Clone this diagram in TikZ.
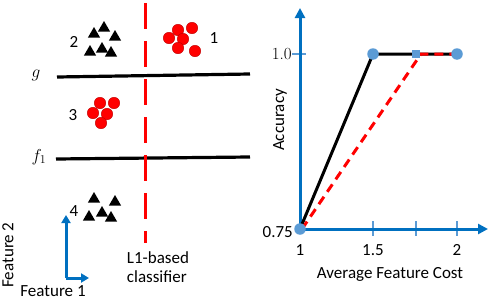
\documentclass[tikz,border=0pt]{standalone}
\usepackage{fontspec}
\newfontfamily\carlitofont{Carlito}
\usetikzlibrary{arrows.meta,shapes.geometric}
\definecolor{axblue}{HTML}{0070C0}
\definecolor{ltblue}{HTML}{5B9BD5}
\definecolor{myred}{HTML}{FF0000}
\definecolor{dkred}{HTML}{C00000}
\tikzset{
  lbl/.style={font=\carlitofont\fontsize{17}{18}\selectfont, inner sep=0pt},
  serifl/.style={font=\fontsize{17}{18}\selectfont, inner sep=0pt},
  dotr/.style={circle, fill=myred, draw=dkred, line width=0.4pt, minimum size=11.5pt, inner sep=0pt},
  tri/.style={regular polygon, regular polygon sides=3, fill=black, minimum size=14pt, inner sep=0pt},
  sepline/.style={line width=3.2pt, black},
  redsep/.style={line width=3pt, myred, dash pattern=on 26pt off 12pt},
  axis/.style={line width=3pt, axblue, -{Triangle[length=10pt,width=10pt]}},
  tickm/.style={line width=1.6pt, ltblue},
  pt/.style={circle, fill=ltblue, minimum size=11.5pt, inner sep=0pt},
  sqpt/.style={rectangle, fill=ltblue, minimum size=8.5pt, inner sep=0pt},
}
\begin{document}
\begin{tikzpicture}[x=1pt,y=-1pt]
\useasboundingbox (0,0) rectangle (488,300);
% separator lines
\coordinate (gL) at (57,77); \coordinate (gR) at (250,74);
\coordinate (fL) at (56,159); \coordinate (fR) at (250,157);
\draw[sepline] (gL) -- (gR);
\draw[sepline] (fL) -- (fR);
\node[serifl, font=\fontsize{18}{18}\selectfont] (glab) at (36,75) {$g$};
\node[serifl, font=\fontsize{18}{18}\selectfont] (flab) at (39,157) {$f_1$};
% L1 classifier
\coordinate (cT) at (145,3); \coordinate (cB) at (145,243);
\draw[redsep] (cT) -- (cB);
\node[lbl, align=left] (l1) at (158,267) {L1-based\\[1pt]classifier};
% group 1
\foreach \n/\x/\y in {a/178/30, b/192/28, c/169/38, d/183/39, e/178/48, f/195/51}
  \node[dotr] (g1\n) at (\x,\y) {};
\node[lbl] (n1) at (214,38) {1};
% group 2
\foreach \n/\x/\y in {a/94/34, b/104/28, c/115/37, d/90/52, e/102/49, f/111/53}
  \node[tri] (g2\n) at (\x,\y) {};
\node[lbl] (n2) at (74,42) {2};
% group 3
\foreach \n/\x/\y in {a/100/103, b/114/103, c/93/113, d/107/114, e/101/123}
  \node[dotr] (g3\n) at (\x,\y) {};
\node[lbl] (n3) at (73,115) {3};
% group 4
\foreach \n/\x/\y in {a/94/199, b/115/202, c/89/217, d/102/213, e/111/218}
  \node[tri] (g4\n) at (\x,\y) {};
\node[lbl] (n4) at (74,211) {4};
% feature axes
\coordinate (fo) at (66,278);
\coordinate (fy) at (66,215);
\coordinate (fx) at (89,278);
\draw[axis, -{Triangle[length=8pt,width=9pt]}] (fo) -- (fy);
\draw[axis, -{Triangle[length=8pt,width=9pt]}] (fo) -- (fx);
\node[lbl, rotate=90] (f2lab) at (8,255) {Feature 2};
\node[lbl] (f1lab) at (53,291) {Feature 1};
% right plot axes
\coordinate (O) at (300,229);
\coordinate (Ytop) at (300,8);
\coordinate (Xend) at (488,229);
\foreach \x/\n in {373/a, 416/b, 457/c} {
  \coordinate (t\n1) at (\x,221); \coordinate (t\n2) at (\x,236);
  \draw[tickm] (t\n1) -- (t\n2);
}
\coordinate (yt1) at (292,54); \coordinate (yt2) at (306,54);
\draw[tickm] (yt1) -- (yt2);
\draw[axis] (O) -- (Ytop);
\draw[axis] (O) -- (Xend);
\node[serifl, anchor=east] (y10) at (292,54) {1.0};
\node[lbl, anchor=east] (y075) at (293,232) {0.75};
\node[lbl] (x1) at (300,250) {1};
\node[lbl] (x15) at (373,250) {1.5};
\node[lbl] (x2) at (457,250) {2};
\node[lbl] (xl) at (390,274) {Average Feature Cost};
\node[lbl, rotate=90] (yl) at (280,120) {Accuracy};
% curves
\coordinate (p0) at (300,229);
\coordinate (p1) at (373,54);
\coordinate (p2) at (457,54);
\coordinate (r0) at (302,229);
\coordinate (r1) at (421,54);
\draw[line width=3pt, black, line join=round] (p0) -- (p1) -- (p2);
\draw[line width=3pt, myred, dash pattern=on 9pt off 6pt] (r0) -- (r1) -- (p2);
\node[pt] (d0) at (p0) {};
\node[pt] (d1) at (p1) {};
\node[pt] (d2) at (p2) {};
\node[sqpt] (sq) at (416,54) {};
\end{tikzpicture}
\end{document}
